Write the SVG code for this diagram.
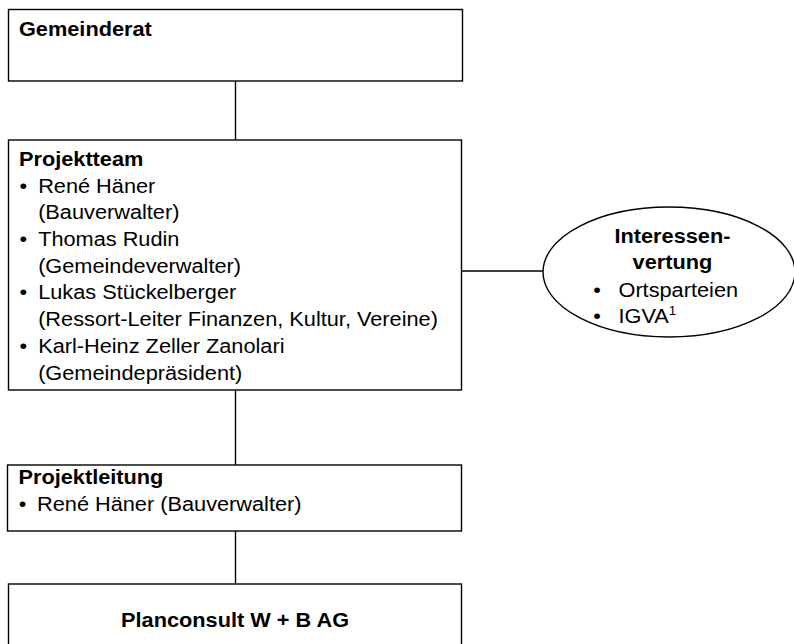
<svg xmlns="http://www.w3.org/2000/svg" width="794" height="644" viewBox="0 0 794 644">
<style>
.box{fill:#fff;stroke:#000;stroke-width:1.4}
.ln{fill:none;stroke:#000;stroke-width:1.4}
text{font-family:"Liberation Sans",Arial,sans-serif;font-size:19.5px;fill:#000}
.b{font-weight:bold}
.sup{font-size:12px}
</style>
<rect width="794" height="644" fill="#fff"/>
<g id="connectors">
<line class="ln" x1="235.5" y1="81" x2="235.5" y2="140"/>
<line class="ln" x1="235.5" y1="390" x2="235.5" y2="465"/>
<line class="ln" x1="235.5" y1="531" x2="235.5" y2="584"/>
<line class="ln" x1="462" y1="271" x2="544" y2="271"/>
</g>
<g id="gemeinderat">
<rect class="box" x="8.5" y="9.5" width="454" height="71.5"/>
<g transform="scale(1.115 1)">
<text class="b" x="17.0" y="35.7">Gemeinderat</text>
</g>
</g>
<g id="projektteam">
<rect class="box" x="8.5" y="140" width="453" height="250"/>
<g transform="scale(1.115 1)">
<text class="b" x="17.0" y="166">Projektteam</text>
<text x="17.5" y="192.7">•</text><text x="34.2" y="192.7">René Häner</text>
<text x="34.2" y="219.4">(Bauverwalter)</text>
<text x="17.5" y="246">•</text><text x="34.2" y="246">Thomas Rudin</text>
<text x="34.2" y="272.8">(Gemeindeverwalter)</text>
<text x="17.5" y="299.5">•</text><text x="34.2" y="299.5">Lukas Stückelberger</text>
<text x="34.2" y="326.2">(Ressort-Leiter Finanzen, Kultur, Vereine)</text>
<text x="17.5" y="353">•</text><text x="34.2" y="353">Karl-Heinz Zeller Zanolari</text>
<text x="34.2" y="379.7">(Gemeindepräsident)</text>
</g>
</g>
<g id="interessenvertung">
<ellipse class="box" cx="669" cy="272" rx="126" ry="65"/>
<g transform="scale(1.115 1)">
<text class="b" x="603.1" y="243" text-anchor="middle">Interessen-</text>
<text class="b" x="603.1" y="269.5" text-anchor="middle">vertung</text>
<text x="532" y="297">•</text><text x="554.7" y="297">Ortsparteien</text>
<text x="532" y="323.3">•</text><text x="554.7" y="323.3">IGVA<tspan class="sup" dy="-8">1</tspan></text>
</g>
</g>
<g id="projektleitung">
<rect class="box" x="7.5" y="465" width="454" height="66"/>
<g transform="scale(1.115 1)">
<text class="b" x="16.6" y="484.5">Projektleitung</text>
<text x="16.8" y="511.5">•</text><text x="33.2" y="511.5">René Häner (Bauverwalter)</text>
</g>
</g>
<g id="planconsult">
<rect class="box" x="8.5" y="584" width="453" height="80"/>
<g transform="scale(1.115 1)">
<text class="b" x="210.8" y="627" text-anchor="middle">Planconsult W + B AG</text>
</g>
</g>
</svg>
